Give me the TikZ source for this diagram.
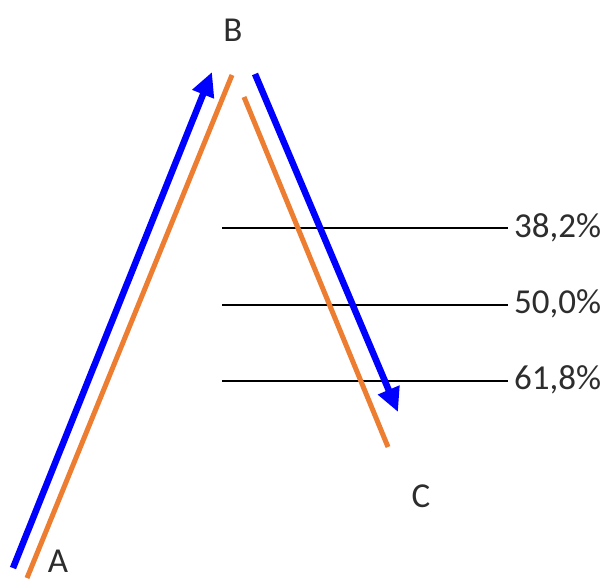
\documentclass[tikz,border=0pt]{standalone}
\usepackage{fontspec}
\setmainfont{Carlito}
\usetikzlibrary{arrows.meta}
\definecolor{offorange}{RGB}{237,125,49}
\definecolor{txtgray}{RGB}{45,45,45}
\begin{document}
\begin{tikzpicture}[x=1pt,y=-1pt,
  lbl/.style={font=\fontsize{35}{40}\selectfont, text=txtgray, inner sep=0pt},
  bluearrow/.style={draw=blue, line width=6.5pt, -{Triangle[length=24pt,width=22pt]}},
  orangeline/.style={draw=offorange, line width=5pt},
  level/.style={draw=black, line width=1.1pt}]
\useasboundingbox[fill=white] (0,0) rectangle (612,581);
% coordinates
\coordinate (oA) at (27,578);
\coordinate (oB1) at (232,75);
\coordinate (oB2) at (244,97);
\coordinate (oC) at (388,447);
\coordinate (bA) at (13,568);
\coordinate (bB) at (212,72);
\coordinate (bB2) at (255,74);
\coordinate (bC) at (398,412);
% fibonacci levels
\coordinate (l1s) at (222,228); \coordinate (l1e) at (508,228);
\coordinate (l2s) at (222,305); \coordinate (l2e) at (508,305);
\coordinate (l3s) at (222,381); \coordinate (l3e) at (508,381);
\draw[level] (l1s) -- (l1e);
\draw[level] (l2s) -- (l2e);
\draw[level] (l3s) -- (l3e);
\node[lbl, anchor=west] (p1) at (514,228) {38,2\%};
\node[lbl, anchor=west] (p2) at (514,304) {50,0\%};
\node[lbl, anchor=west] (p3) at (514,380) {61,8\%};
% orange lines
\draw[orangeline] (oA) -- (oB1);
\draw[orangeline] (oB2) -- (oC);
% blue arrows
\draw[bluearrow] (bA) -- (bB);
\draw[bluearrow] (bB2) -- (bC);
% labels
\node[lbl] (A) at (58,561) {A};
\node[lbl] (B) at (233,30) {B};
\node[lbl] (C) at (421,496) {C};
\end{tikzpicture}
\end{document}
